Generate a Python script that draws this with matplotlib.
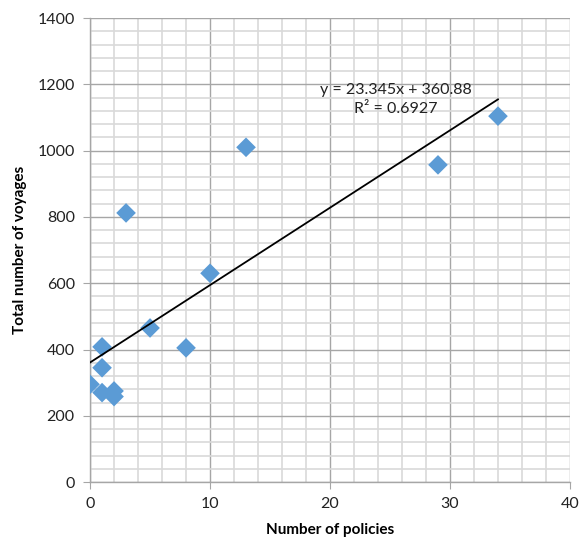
import matplotlib
matplotlib.use("Agg")
import matplotlib.pyplot as plt
from matplotlib.ticker import MultipleLocator
import numpy as np

# values
policies = [0, 1, 1, 1, 2, 2, 3, 5, 8, 10, 13, 29, 34]
voyages = [295, 408, 345, 270, 275, 258, 812, 465, 405, 630, 1010, 957, 1104]
slope = 23.345
intercept = 360.88
r2 = 0.6927

plt.rcParams['font.family'] = ['Lato', 'DejaVu Sans']

fig = plt.figure(figsize=(5.81, 5.46), dpi=100)
ax = fig.add_axes([0.155, 0.117, 0.826, 0.85])

ax.set_xlim(0, 40)
ax.set_ylim(0, 1400)
ax.xaxis.set_major_locator(MultipleLocator(10))
ax.xaxis.set_minor_locator(MultipleLocator(2))
ax.yaxis.set_major_locator(MultipleLocator(200))
ax.yaxis.set_minor_locator(MultipleLocator(40))

ax.grid(which='minor', color='#d9d9d9', lw=1.2, zorder=0)
ax.grid(which='major', color='#a6a6a6', lw=1.0, zorder=0)
ax.set_axisbelow(True)

for s in ['top', 'right']:
    ax.spines[s].set_visible(False)
for s in ['left', 'bottom']:
    ax.spines[s].set_color('#a6a6a6')
    ax.spines[s].set_linewidth(1.0)

ax.tick_params(which='major', direction='out', length=5, color='#a6a6a6',
               labelsize=11.5, labelcolor='#222222', pad=6)
ax.tick_params(which='minor', length=0)

ax.scatter(policies, voyages, marker='D', s=100, color='#5b9bd5',
           edgecolors='none', zorder=3)

xs = np.array([min(policies), max(policies)])
ax.plot(xs, slope * xs + intercept, color='black', lw=1.3, zorder=4)

ax.text(25.5, 1155, 'y = %.3fx + %.2f\nR² = %.4f' % (slope, intercept, r2),
        ha='center', va='center', fontsize=11.5, color='#222222',
        linespacing=1.45, zorder=5)

ax.set_xlabel('Number of policies', fontsize=11, fontweight='bold')
ax.set_ylabel('Total number of voyages', fontsize=11, fontweight='bold')
ax.xaxis.set_label_coords(0.5, -0.088)
ax.yaxis.set_label_coords(-0.131, 0.5)

fig.savefig('out.png', dpi=100)
